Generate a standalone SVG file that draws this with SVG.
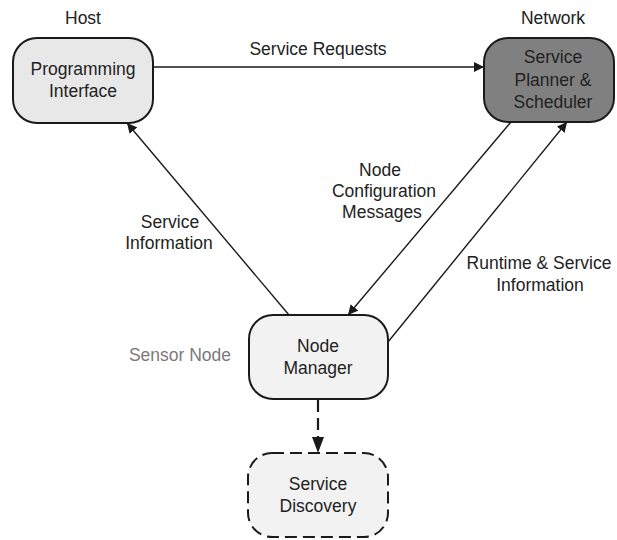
<svg xmlns="http://www.w3.org/2000/svg" width="617" height="540" viewBox="0 0 617 540">
  <style>
    text { font-family: "Liberation Sans", Arial, sans-serif; font-size: 17.5px; fill: #222; text-anchor: middle; }
    .box { stroke: #1a1a1a; stroke-width: 2; }
    .dashed { stroke-dasharray: 12 6; }
    .edge { fill: none; stroke: #1a1a1a; stroke-width: 1.4; }
    .edge.thick { stroke-width: 2.2; }
    .muted { fill: #7a7a7a; }
  </style>
  <defs>
    <marker id="arrow" viewBox="0 0 10 10" refX="10" refY="5" markerWidth="10" markerHeight="10" markerUnits="userSpaceOnUse" orient="auto">
      <path d="M0,0 L10,5 L0,10 z" fill="#1a1a1a"/>
    </marker>
    <marker id="arrowLarge" viewBox="0 0 16 12" refX="16" refY="6" markerWidth="16" markerHeight="12" markerUnits="userSpaceOnUse" orient="auto">
      <path d="M0,0 L16,6 L0,12 z" fill="#1a1a1a"/>
    </marker>
  </defs>

  <!-- region captions -->
  <text x="83" y="24">Host</text>
  <text x="553" y="24">Network</text>
  <text class="muted" x="180" y="361">Sensor Node</text>

  <!-- connectors -->
  <g id="connectors">
    <line class="edge" x1="153" y1="67" x2="484" y2="67" marker-end="url(#arrow)"/>
    <line class="edge" x1="289" y1="315" x2="127" y2="123" marker-end="url(#arrow)"/>
    <line class="edge" x1="511" y1="122" x2="348" y2="315" marker-end="url(#arrow)"/>
    <line class="edge" x1="388" y1="342" x2="567" y2="122" marker-end="url(#arrow)"/>
    <line class="edge thick dashed" x1="318" y1="400" x2="318" y2="453" marker-end="url(#arrowLarge)"/>
    <text x="318" y="55">Service Requests</text>
    <text x="170" y="228">Service</text>
    <text x="169" y="249">Information</text>
    <text x="380" y="176">Node</text>
    <text x="384" y="197">Configuration</text>
    <text x="382" y="218">Messages</text>
    <text x="539" y="269">Runtime &amp; Service</text>
    <text x="540" y="291">Information</text>
  </g>

  <!-- nodes -->
  <g id="programming-interface">
    <rect class="box" x="13" y="38" width="140" height="85" rx="24" fill="#e8e8e8"/>
    <text x="83" y="75">Programming</text>
    <text x="83" y="97">Interface</text>
  </g>

  <g id="service-planner">
    <rect class="box" x="484" y="38" width="130" height="84" rx="24" fill="#808080"/>
    <text x="553" y="63">Service</text>
    <text x="553" y="86">Planner &amp;</text>
    <text x="553" y="108">Scheduler</text>
  </g>

  <g id="node-manager">
    <rect class="box" x="249" y="315" width="139" height="84" rx="24" fill="#f2f2f2"/>
    <text x="318" y="352">Node</text>
    <text x="318" y="374">Manager</text>
  </g>

  <g id="service-discovery">
    <rect class="box dashed" x="248" y="453" width="140" height="84" rx="24" fill="#f2f2f2"/>
    <text x="318" y="490">Service</text>
    <text x="318" y="512">Discovery</text>
  </g>
</svg>
